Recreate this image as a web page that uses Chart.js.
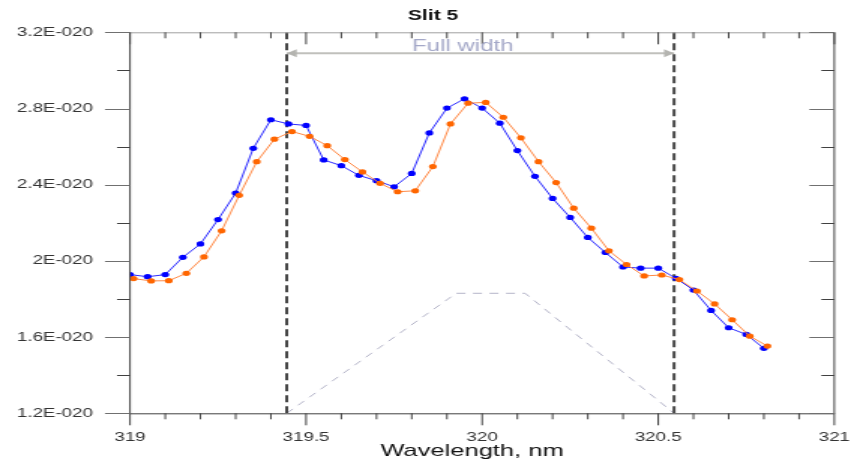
<!DOCTYPE html>
<html>
<head>
<meta charset="utf-8">
<script src="https://cdn.jsdelivr.net/npm/chart.js@4.4.1/dist/chart.umd.min.js"></script>
<style>
  html, body { margin: 0; padding: 0; background: #fff; }
  #c { display: block; }
</style>
</head>
<body>
<canvas id="c" width="569" height="461" style="width:854px;height:461px"></canvas>
<script>
// the reference is stretched sideways, so the canvas is drawn narrow and widened by css
const S = 854 / 569;

// wavelength, nm
const blueX = [319.00, 319.05, 319.10, 319.15, 319.20, 319.25, 319.30, 319.35, 319.40, 319.45,
               319.50, 319.55, 319.60, 319.65, 319.70, 319.75, 319.80, 319.85, 319.90, 319.95,
               320.00, 320.05, 320.10, 320.15, 320.20, 320.25, 320.30, 320.35, 320.40, 320.45,
               320.50, 320.55, 320.60, 320.65, 320.70, 320.75, 320.80];
// values in units of 1E-020
const blueY = [1.928, 1.917, 1.928, 2.019, 2.089, 2.217, 2.356, 2.591, 2.741, 2.719,
               2.711, 2.530, 2.500, 2.449, 2.421, 2.389, 2.459, 2.672, 2.802, 2.851,
               2.802, 2.723, 2.579, 2.444, 2.328, 2.228, 2.123, 2.044, 1.968, 1.962,
               1.962, 1.909, 1.847, 1.740, 1.649, 1.614, 1.541];

const orangeX = [319.01, 319.06, 319.11, 319.16, 319.21, 319.26, 319.31, 319.36, 319.41, 319.46,
                 319.51, 319.56, 319.61, 319.66, 319.71, 319.76, 319.81, 319.86, 319.91, 319.96,
                 320.01, 320.06, 320.11, 320.16, 320.21, 320.26, 320.31, 320.36, 320.41, 320.46,
                 320.51, 320.56, 320.61, 320.66, 320.71, 320.76, 320.81];
const orangeY = [1.907, 1.895, 1.896, 1.935, 2.021, 2.158, 2.344, 2.521, 2.639, 2.679,
                 2.654, 2.605, 2.532, 2.467, 2.407, 2.363, 2.368, 2.495, 2.719, 2.828,
                 2.832, 2.754, 2.646, 2.521, 2.411, 2.277, 2.172, 2.053, 1.981, 1.921,
                 1.926, 1.902, 1.842, 1.774, 1.691, 1.605, 1.553];

// full width markers
const edgeLeft = 319.445;
const edgeRight = 320.545;
const arrowY = 3.09;
const widthLabel = 'Full width';
const widthLabelX = 319.945;
const widthLabelY = 3.123;

// slit shape (trapezoid)
const slitX = [319.445, 319.926, 320.122, 320.545];
const slitY = [1.2, 1.83, 1.83, 1.2];

const chartTitle = 'Slit 5';
const xTitle = 'Wavelength, nm';
const yMin = 1.2, yMax = 3.2;
const xMin = 319, xMax = 321;

const FONT = '"Liberation Sans", Arial, sans-serif';

function pts(xs, ys) {
    return xs.map((x, i) => ({ x: x, y: ys[i] }));
}

function isMult(v, step) {
    const r = v / step;
    return Math.abs(r - Math.round(r)) < 1e-6;
}

// frame, inward/outward ticks, arrow heads, titles and the "Full width" text
const decorPlugin = {
    id: 'decor',
    afterDraw(chart) {
        const ctx = chart.ctx;
        const xs = chart.scales.x, ys = chart.scales.y;
        const a = chart.chartArea;
        ctx.save();

        // frame
        ctx.lineWidth = 1;
        ctx.strokeStyle = '#a0a0a0';
        ctx.beginPath();
        ctx.moveTo(a.left, a.top + 0.5);
        ctx.lineTo(a.right, a.top + 0.5);
        ctx.stroke();
        ctx.strokeStyle = '#404040';
        ctx.beginPath();
        ctx.moveTo(a.left, a.top);
        ctx.lineTo(a.left, a.bottom + 0.5);
        ctx.lineTo(a.right, a.bottom + 0.5);
        ctx.lineTo(a.right, a.top);
        ctx.stroke();

        // x ticks: outward at bottom, inward at top
        ctx.strokeStyle = '#404040';
        xs.ticks.forEach(t => {
            const px = xs.getPixelForValue(t.value);
            const major = isMult(t.value, 0.5);
            const len = major ? 12 : 6;
            ctx.beginPath();
            ctx.moveTo(px, a.bottom);
            ctx.lineTo(px, a.bottom + len);
            ctx.moveTo(px, a.top);
            ctx.lineTo(px, a.top + len);
            ctx.stroke();
        });

        // y ticks: outward at left, inward at right
        ys.ticks.forEach(t => {
            const py = Math.round(ys.getPixelForValue(t.value)) + 0.5;
            const major = isMult(t.value, 0.4);
            const len = (major ? 25 : 13) / S;
            ctx.strokeStyle = major ? '#707070' : '#404040';
            ctx.beginPath();
            ctx.moveTo(a.left - len, py);
            ctx.lineTo(a.left, py);
            ctx.moveTo(a.right - len, py);
            ctx.lineTo(a.right, py);
            ctx.stroke();
        });

        // arrow heads on the full width line
        const ay = ys.getPixelForValue(arrowY);
        const l = xs.getPixelForValue(edgeLeft), r = xs.getPixelForValue(edgeRight);
        const hl = 10 / S, hw = 4;
        ctx.fillStyle = '#b4b4b0';
        ctx.beginPath();
        ctx.moveTo(l, ay);
        ctx.lineTo(l + hl, ay - hw);
        ctx.lineTo(l + hl, ay + hw);
        ctx.closePath();
        ctx.fill();
        ctx.beginPath();
        ctx.moveTo(r, ay);
        ctx.lineTo(r - hl, ay - hw);
        ctx.lineTo(r - hl, ay + hw);
        ctx.closePath();
        ctx.fill();

        ctx.fillStyle = '#a4a8c8';
        ctx.font = '16px ' + FONT;
        ctx.textAlign = 'center';
        ctx.textBaseline = 'middle';
        ctx.fillText(widthLabel, xs.getPixelForValue(widthLabelX), ys.getPixelForValue(widthLabelY));

        // titles sit a bit left of the plot centre, as in the original
        ctx.fillStyle = '#111';
        ctx.font = 'bold 14px ' + FONT;
        ctx.fillText(chartTitle, 433 / S, 16.5);
        ctx.font = '17px ' + FONT;
        ctx.fillText(xTitle, 472 / S, 451);
        ctx.restore();
    }
};

const ctx = document.getElementById('c').getContext('2d');

new Chart(ctx, {
    type: 'line',
    data: {
        datasets: [
            {
                label: 'left edge',
                data: [{ x: edgeLeft, y: yMin }, { x: edgeLeft, y: yMax }],
                borderColor: '#484848',
                borderWidth: 2,
                borderDash: [7, 4],
                pointRadius: 0,
                order: 10
            },
            {
                label: 'right edge',
                data: [{ x: edgeRight, y: yMin }, { x: edgeRight, y: yMax }],
                borderColor: '#484848',
                borderWidth: 2,
                borderDash: [7, 4],
                pointRadius: 0,
                order: 10
            },
            {
                label: 'slit',
                data: pts(slitX, slitY),
                borderColor: '#b4b4c8',
                borderWidth: 1,
                borderDash: [6, 5],
                pointRadius: 0,
                order: 11
            },
            {
                label: 'full width',
                data: [{ x: edgeLeft, y: arrowY }, { x: edgeRight, y: arrowY }],
                borderColor: '#c0c0bc',
                borderWidth: 2,
                pointRadius: 0,
                order: 10
            },
            {
                label: 'blue',
                data: pts(blueX, blueY),
                borderColor: '#2a2aff',
                borderWidth: 1,
                pointRadius: 2.6,
                pointBorderWidth: 0,
                pointBackgroundColor: '#0000ff',
                order: 2
            },
            {
                label: 'orange',
                data: pts(orangeX, orangeY),
                borderColor: '#ff8844',
                borderWidth: 1,
                pointRadius: 2.6,
                pointBorderWidth: 0,
                pointBackgroundColor: '#ff6600',
                order: 1
            }
        ]
    },
    options: {
        responsive: false,
        devicePixelRatio: 1,
        animation: false,
        events: [],
        layout: { padding: { top: 32.3, right: 569 - 834.3 / S, bottom: 0, left: 0 } },
        plugins: {
            legend: { display: false },
            tooltip: { enabled: false },
            title: { display: false }
        },
        scales: {
            x: {
                type: 'linear',
                min: xMin,
                max: xMax,
                grid: { display: false, drawTicks: false },
                border: { display: false },
                afterFit: s => {
                    s.height = 461 - 413.3;
                    s.paddingLeft = 0;
                    s.paddingRight = 0;
                },
                ticks: {
                    stepSize: 0.1,
                    autoSkip: false,
                    maxRotation: 0,
                    padding: 17,
                    color: '#333',
                    font: { family: FONT, size: 12.5 },
                    callback: v => isMult(v, 0.5) ? String(Math.round(v * 2) / 2) : ''
                },
                title: { display: false }
            },
            y: {
                type: 'linear',
                min: yMin,
                max: yMax,
                grid: { display: false, drawTicks: false },
                border: { display: false },
                afterFit: s => {
                    s.width = 130 / S;
                    s.paddingTop = 0;
                    s.paddingBottom = 0;
                },
                ticks: {
                    stepSize: 0.2,
                    autoSkip: false,
                    padding: 130 / S - 93 / S,
                    color: '#333',
                    font: { family: FONT, size: 12.5 },
                    callback: v => isMult(v, 0.4) ? (Math.round(v * 10) / 10) + 'E-020' : ''
                }
            }
        }
    },
    plugins: [decorPlugin]
});
</script>
</body>
</html>
